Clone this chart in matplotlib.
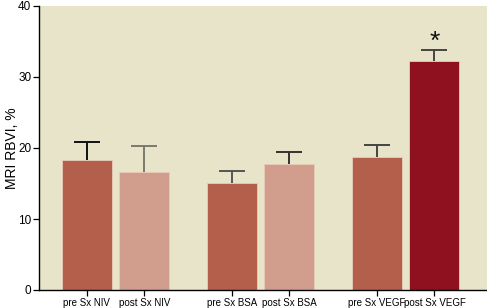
import matplotlib
matplotlib.use("Agg")
import matplotlib.pyplot as plt

categories = ["pre Sx NIV", "post Sx NIV", "pre Sx BSA", "post Sx BSA", "pre Sx VEGF", "post Sx VEGF"]
values = [18.3, 16.6, 15.1, 17.8, 18.7, 32.3]
err_upper = [2.6, 3.7, 1.6, 1.7, 1.7, 1.5]
positions = [0, 1.15, 2.9, 4.05, 5.8, 6.95]
colors = ["#B35F4B", "#D19E8D", "#B35F4B", "#D19E8D", "#B35F4B", "#8F101E"]
err_colors = ["#111111", "#7a7a6e", "#555555", "#333333", "#444444", "#444444"]
yticks = [0, 10, 20, 30, 40]

font = ["Liberation Sans", "DejaVu Sans"]

fig = plt.figure(figsize=(4.87, 3.08), dpi=100)
ax = fig.add_axes([39/487, 18/308, 1 - 39/487, (290-6)/308])
ax.set_facecolor("#E8E4C9")

ax.bar(positions, values, width=1.0, color=colors, edgecolor="#E8CBB8", linewidth=0.6, zorder=2)
tops = [v + e for v, e in zip(values, err_upper)]
ax.vlines(positions, values, tops, colors=err_colors, linewidth=1.4, zorder=3)
ax.hlines(tops, [p - 0.26 for p in positions], [p + 0.26 for p in positions],
          colors=err_colors, linewidth=1.4, zorder=3)

ax.text(positions[5], tops[5] + 1.1, "*", ha="center", va="center",
        fontsize=19, color="#111111", family=font)

ax.set_xlim(-0.954, 8.0)
ax.set_ylim(0, 40)
ax.set_yticks(yticks)
ax.set_yticklabels([str(t) for t in yticks], family=font, fontsize=8.5)
ax.set_xticks(positions)
ax.set_xticklabels(categories, family=font, fontsize=7)
ax.set_ylabel("MRI RBVI, %", fontsize=10, family=font)
ax.yaxis.set_label_coords(-0.045, 0.5)

for s in ["top", "right"]:
    ax.spines[s].set_visible(False)
ax.spines["left"].set_linewidth(1.0)
ax.spines["bottom"].set_linewidth(1.0)
ax.tick_params(axis="both", direction="out", length=4, width=0.9, pad=1.5)

fig.savefig("out.png", dpi=100)
